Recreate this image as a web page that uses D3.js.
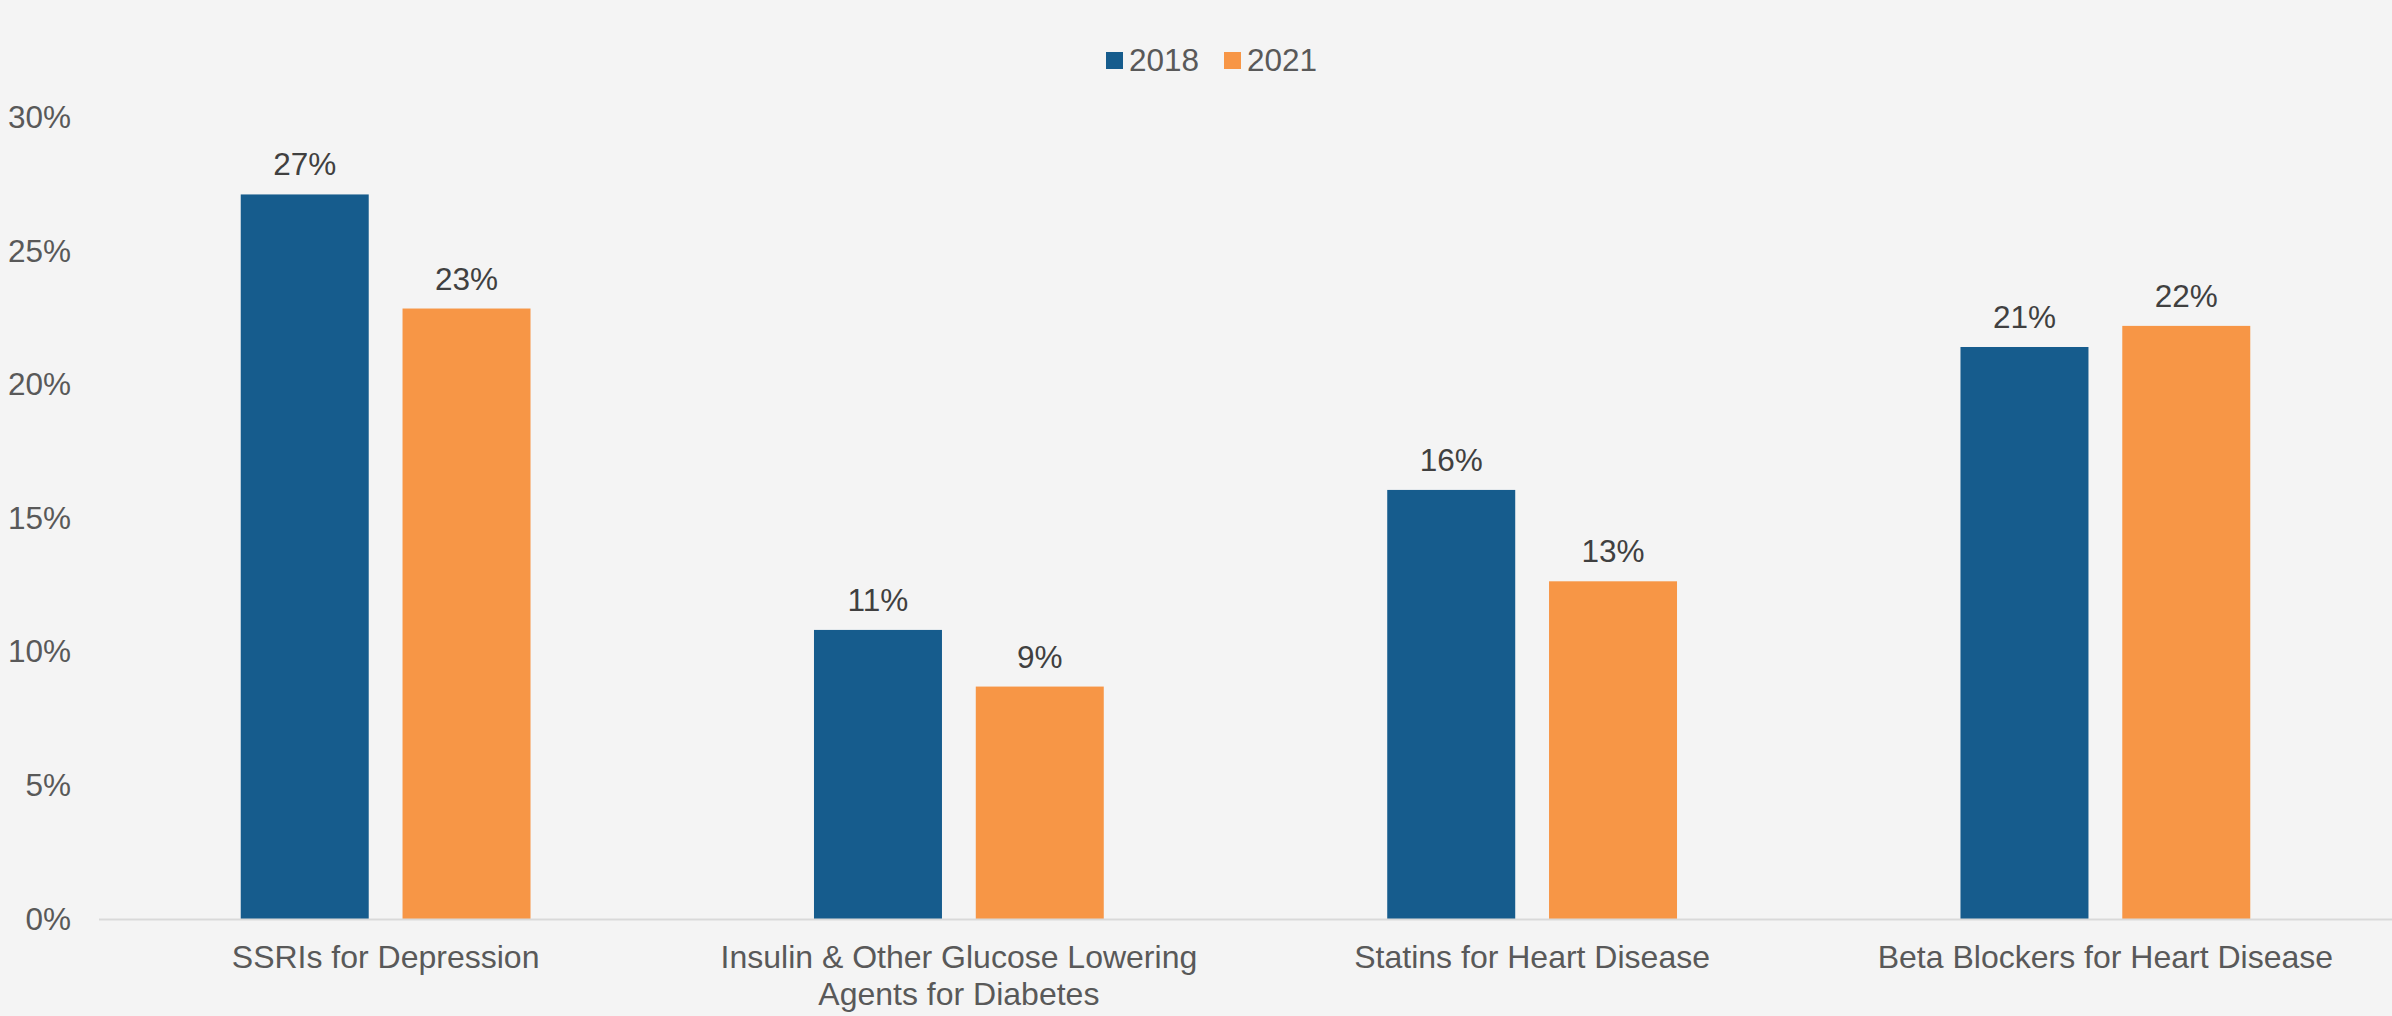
<!DOCTYPE html>
<html>
<head>
<meta charset="utf-8">
<script src="https://cdn.jsdelivr.net/npm/d3@7"></script>
<style>
  html, body { margin: 0; padding: 0; background: #F4F4F4; }
  svg { display: block; font-family: "Liberation Sans", Arial, sans-serif; }
</style>
</head>
<body>
<svg id="chart" width="2392" height="1016"></svg>
<script>
// Share of patients by drug class, 2018 vs 2021
const categories = [
  ["SSRIs for Depression"],
  ["Insulin & Other Glucose Lowering", "Agents for Diabetes"],
  ["Statins for Heart Disease"],
  ["Beta Blockers for Heart Disease"]
];
const seriesNames = ["2018", "2021"];
const values2018 = [0.2712, 0.1082, 0.1606, 0.2141];
const values2021 = [0.2285, 0.0870, 0.1264, 0.2220];
const yTicks = [0, 0.05, 0.10, 0.15, 0.20, 0.25, 0.30];

const colors = { "2018": "#165C8D", "2021": "#F79646" };

const W = 2392, H = 1016;
const margin = { top: 117.5, right: 0, bottom: 97, left: 99 };
const svg = d3.select("#chart");
svg.append("rect").attr("width", W).attr("height", H).attr("fill", "#F4F4F4");

const x0 = d3.scaleBand()
  .domain(d3.range(categories.length))
  .range([margin.left, W - margin.right])
  .paddingInner(0).paddingOuter(0);

const x1 = d3.scaleBand()
  .domain(seriesNames)
  .range([0, x0.bandwidth()])
  .paddingInner(0.209)
  .paddingOuter(0.876);

const y = d3.scaleLinear()
  .domain([0, 0.30])
  .range([H - margin.bottom, margin.top]);

// y axis: labels only
const yAxis = svg.append("g")
  .attr("transform", `translate(${margin.left},0)`)
  .call(d3.axisLeft(y).tickValues(yTicks).tickSize(0).tickPadding(28).tickFormat(d3.format(".0%")));
yAxis.select(".domain").remove();
yAxis.selectAll("text")
  .attr("fill", "#595959")
  .style("font-size", "31.5px")
  .style("font-family", "'Liberation Sans', Arial, sans-serif");

// grouped data
const rows = categories.map((c, i) => ({
  i,
  items: [
    { key: "2018", value: values2018[i] },
    { key: "2021", value: values2021[i] }
  ]
}));

const groups = svg.append("g").selectAll("g")
  .data(rows).join("g")
  .attr("transform", d => `translate(${x0(d.i)},0)`);

groups.selectAll("rect")
  .data(d => d.items).join("rect")
  .attr("x", d => x1(d.key))
  .attr("width", x1.bandwidth())
  .attr("y", d => y(d.value))
  .attr("height", d => y(0) - y(d.value))
  .attr("fill", d => colors[d.key]);

// value labels
const fmt = d3.format(".0%");
groups.selectAll("text.val")
  .data(d => d.items).join("text")
  .attr("class", "val")
  .attr("x", d => x1(d.key) + x1.bandwidth() / 2)
  .attr("y", d => y(d.value) - 19)
  .attr("text-anchor", "middle")
  .attr("fill", "#404040")
  .style("font-size", "31.5px")
  .text(d => fmt(d.value));

// baseline
svg.append("line")
  .attr("x1", margin.left).attr("x2", W - margin.right)
  .attr("y1", y(0) + 0.5).attr("y2", y(0) + 0.5)
  .attr("stroke", "#D9D9D9").attr("stroke-width", 2);

// category labels
const catG = svg.append("g");
categories.forEach((lines, i) => {
  const t = catG.append("text")
    .attr("x", x0(i) + x0.bandwidth() / 2)
    .attr("y", 968)
    .attr("text-anchor", "middle")
    .attr("fill", "#595959")
    .style("font-size", "32px");
  lines.forEach((ln, j) => {
    t.append("tspan")
      .attr("x", x0(i) + x0.bandwidth() / 2)
      .attr("dy", j === 0 ? 0 : 36.5)
      .text(ln);
  });
});

// legend
const legendItems = [
  { key: "2018", x: 1106 },
  { key: "2021", x: 1224 }
];
const lg = svg.append("g");
legendItems.forEach(it => {
  lg.append("rect")
    .attr("x", it.x).attr("y", 52)
    .attr("width", 17).attr("height", 17)
    .attr("fill", colors[it.key]);
  lg.append("text")
    .attr("x", it.x + 23).attr("y", 71)
    .attr("fill", "#595959")
    .style("font-size", "31.5px")
    .text(it.key);
});
</script>
</body>
</html>
